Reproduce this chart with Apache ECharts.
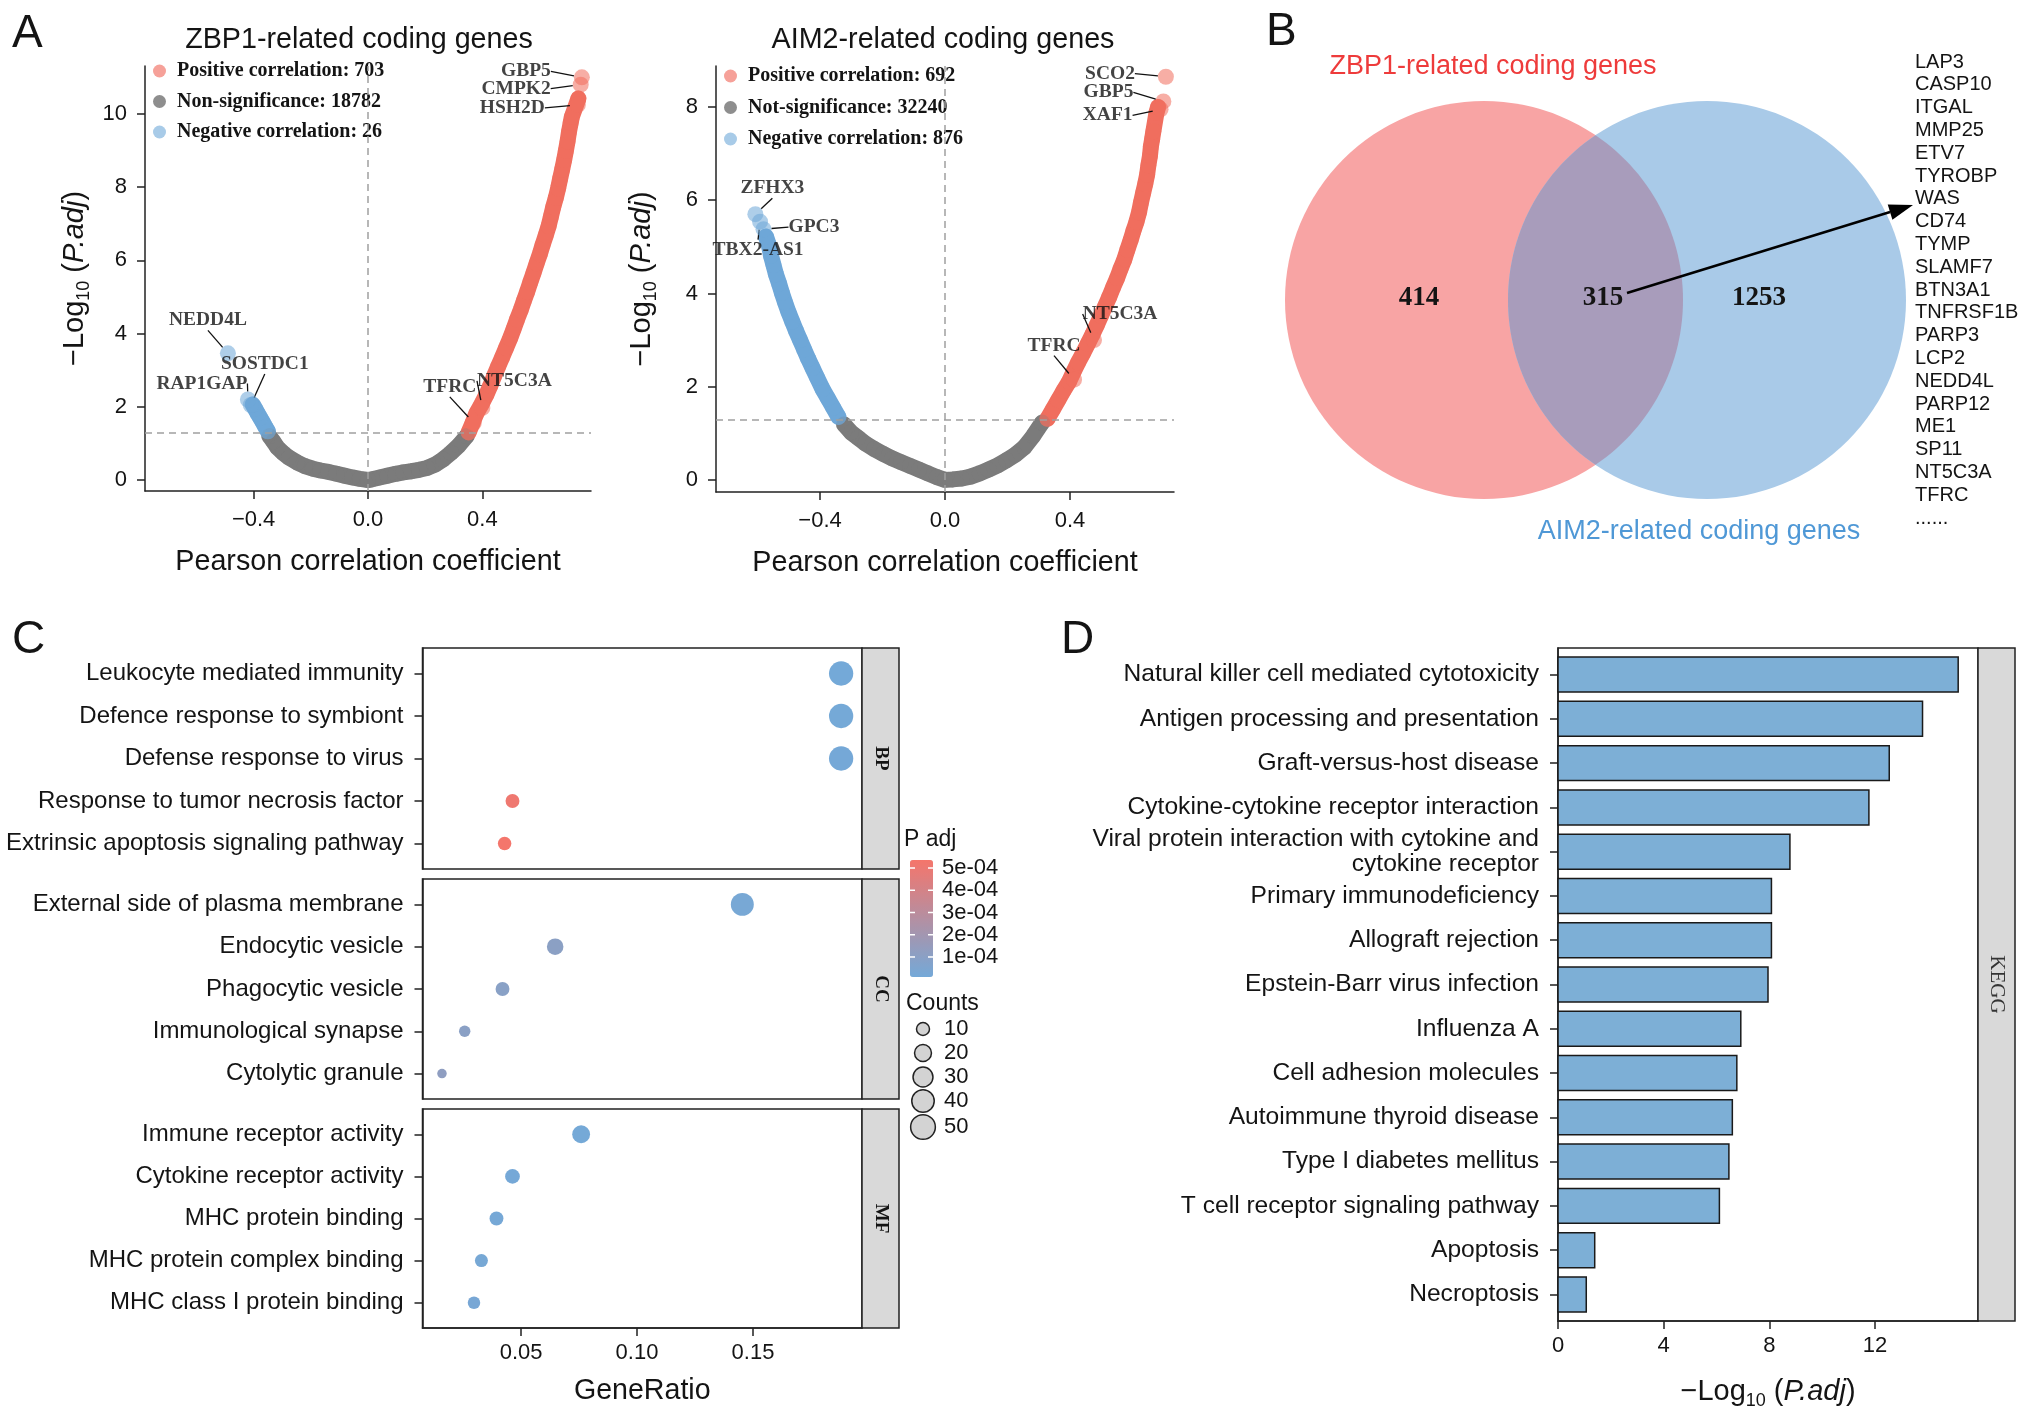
<!DOCTYPE html>
<html><head><meta charset="utf-8">
<script src="https://cdn.jsdelivr.net/npm/echarts@6/dist/echarts.min.js"></script>
<style>html,body{margin:0;padding:0;background:#fff}#c{width:2032px;height:1415px}</style>
</head><body><div id="c"></div>
<script>
// ---------------- DATA ----------------
// Panel A (left): ZBP1-related coding genes  [Pearson r, -log10(P.adj)]
const zbp1Legend = ['Positive correlation: 703', 'Non-significance: 18782', 'Negative correlation: 26'];
const zbp1Pos = [[0.352,1.30],[0.366,1.56],[0.379,1.82],[0.397,2.07],[0.414,2.33],[0.428,2.58],[0.441,2.84],[0.455,3.10],[0.469,3.35],[0.483,3.61],[0.497,3.87],[0.509,4.12],[0.521,4.38],[0.534,4.64],[0.545,4.89],[0.557,5.15],[0.568,5.41],[0.579,5.66],[0.590,5.92],[0.601,6.17],[0.611,6.43],[0.622,6.69],[0.632,6.94],[0.640,7.20],[0.648,7.46],[0.657,7.71],[0.665,7.97],[0.672,8.23],[0.679,8.48],[0.686,8.74],[0.692,8.99],[0.698,9.25],[0.703,9.51],[0.709,9.76],[0.713,9.92],[0.736,10.42]];
const zbp1Ns = [[0.345,1.20],[0.317,0.94],[0.290,0.74],[0.262,0.56],[0.234,0.42],[0.207,0.33],[0.179,0.28],[0.152,0.24],[0.124,0.21],[0.097,0.17],[0.069,0.12],[0.041,0.07],[0.014,0.02],[0.0,0.0],[-0.028,0.03],[-0.055,0.07],[-0.083,0.12],[-0.110,0.17],[-0.138,0.22],[-0.166,0.26],[-0.193,0.31],[-0.221,0.38],[-0.248,0.48],[-0.276,0.61],[-0.297,0.74],[-0.317,0.89],[-0.331,1.05],[-0.345,1.20]];
const zbp1Neg = [[-0.350,1.33],[-0.359,1.45],[-0.368,1.58],[-0.377,1.70],[-0.386,1.82],[-0.395,1.95],[-0.403,2.06]];
const zbp1LabelGenes = ['GBP5','CMPK2','HSH2D','NEDD4L','SOSTDC1','RAP1GAP','TFRC','NT5C3A'];
const zbp1LabelX = [0.748,0.744,0.734,-0.49,-0.41,-0.42,0.37,0.40];
const zbp1LabelY = [11.0,10.8,10.25,3.46,2.05,2.2,1.56,1.97];

// Panel A (right): AIM2-related coding genes
const aim2Legend = ['Positive correlation: 692', 'Not-significance: 32240', 'Negative correlation: 876'];
const aim2Pos = [[0.328,1.31],[0.345,1.51],[0.362,1.71],[0.379,1.91],[0.397,2.11],[0.411,2.31],[0.426,2.52],[0.442,2.72],[0.457,2.92],[0.472,3.12],[0.486,3.32],[0.499,3.52],[0.513,3.73],[0.526,3.93],[0.538,4.13],[0.551,4.33],[0.562,4.53],[0.574,4.73],[0.584,4.94],[0.594,5.14],[0.603,5.34],[0.613,5.54],[0.621,5.74],[0.627,5.94],[0.634,6.15],[0.641,6.35],[0.647,6.55],[0.651,6.75],[0.656,6.95],[0.659,7.15],[0.663,7.31],[0.667,7.48],[0.677,7.88],[0.682,8.0]];
const aim2Ns = [[0.311,1.23],[0.282,0.94],[0.254,0.70],[0.225,0.54],[0.197,0.42],[0.168,0.31],[0.139,0.22],[0.111,0.14],[0.082,0.07],[0.054,0.03],[0.025,0.01],[0.0,0.0],[-0.026,0.06],[-0.055,0.14],[-0.083,0.22],[-0.112,0.30],[-0.141,0.38],[-0.169,0.46],[-0.198,0.56],[-0.226,0.66],[-0.255,0.78],[-0.278,0.90],[-0.301,1.02],[-0.323,1.19]];
const aim2Neg = [[-0.341,1.35],[-0.358,1.55],[-0.375,1.75],[-0.392,1.95],[-0.409,2.19],[-0.424,2.40],[-0.438,2.60],[-0.451,2.80],[-0.464,3.00],[-0.477,3.20],[-0.489,3.40],[-0.501,3.60],[-0.512,3.81],[-0.522,4.01],[-0.531,4.21],[-0.541,4.41],[-0.549,4.61],[-0.557,4.81],[-0.563,5.02],[-0.573,5.22]];
const aim2LabelGenes = ['SCO2','GBP5','XAF1','ZFHX3','GPC3','TBX2-AS1','NT5C3A','TFRC'];
const aim2LabelX = [0.707,0.699,0.690,-0.607,-0.581,-0.592,0.477,0.413];
const aim2LabelY = [8.65,8.12,7.95,5.70,5.38,5.54,3.0,2.15];
const padjCut = 1.301;
const volcanoXTicks = [-0.4, 0, 0.4];
const zbp1YTicks = [0,2,4,6,8,10];
const aim2YTicks = [0,2,4,6,8];

// Panel B: Venn
const vennSetNames = ['ZBP1-related coding genes', 'AIM2-related coding genes'];
const vennCounts = [414, 315, 1253]; // ZBP1 only, shared, AIM2 only
const sharedGenes = ['LAP3','CASP10','ITGAL','MMP25','ETV7','TYROBP','WAS','CD74','TYMP','SLAMF7','BTN3A1','TNFRSF1B','PARP3','LCP2','NEDD4L','PARP12','ME1','SP11','NT5C3A','TFRC','......'];

// Panel C: GO enrichment
const bpTerms = ['Leukocyte mediated immunity','Defence response to symbiont','Defense response to virus','Response to tumor necrosis factor','Extrinsic apoptosis signaling pathway'];
const bpRatio = [0.188,0.188,0.188,0.0463,0.0429];
const bpPadj = [1.2e-5,1.4e-5,1.6e-5,5.1e-4,5.3e-4];
const bpCount = [48,48,48,12,11];
const ccTerms = ['External side of plasma membrane','Endocytic vesicle','Phagocytic vesicle','Immunological synapse','Cytolytic granule'];
const ccRatio = [0.1454,0.0647,0.0420,0.0257,0.0159];
const ccPadj = [2.5e-5,1.05e-4,9.5e-5,1.0e-4,1.2e-4];
const ccCount = [42,19,12,7,4];
const mfTerms = ['Immune receptor activity','Cytokine receptor activity','MHC protein binding','MHC protein complex binding','MHC class I protein binding'];
const mfRatio = [0.0759,0.0463,0.0394,0.0329,0.0297];
const mfPadj = [1.5e-5,1.6e-5,2.0e-5,2.4e-5,2.6e-5];
const mfCount = [23,14,12,10,9];
const goFacets = ['BP','CC','MF'];
const ratioTicks = [0.05,0.10,0.15];
const padjTicks = [5e-4,4e-4,3e-4,2e-4,1e-4];
const padjTickLabels = ['5e-04','4e-04','3e-04','2e-04','1e-04'];
const padjRange = [1e-5, 5.36e-4];
const countLegend = [10,20,30,40,50];

// Panel D: KEGG
const keggTerms = ['Natural killer cell mediated cytotoxicity','Antigen processing and presentation','Graft-versus-host disease','Cytokine-cytokine receptor interaction','Viral protein interaction with cytokine and\ncytokine receptor','Primary immunodeficiency','Allograft rejection','Epstein-Barr virus infection','Influenza A','Cell adhesion molecules','Autoimmune thyroid disease','Type I diabetes mellitus','T cell receptor signaling pathway','Apoptosis','Necroptosis'];
const keggLogP = [15.15,13.80,12.54,11.77,8.78,8.08,8.08,7.95,6.92,6.77,6.60,6.47,6.11,1.39,1.07];
const keggTicks = [0,4,8,12];

// ---------------- STYLE ----------------
const SANS = '"Liberation Sans", Arial, Helvetica, sans-serif';
const SERIF = '"Liberation Serif", "Times New Roman", serif';
const RED = '#F06E5F', GREY = '#7B7B7B', BLUE = '#6FA7D8';
const RED_A = 'rgba(240,110,95,0.7)', GREY_A = 'rgba(123,123,123,0.7)', BLUE_A = 'rgba(111,167,216,0.7)';
const RED_L = '#F6A199', GREY_L = '#8E8E8E', BLUE_L = '#A8CBE8';
const TXT = '#141414';
const labelOffsets = {
  zbp1: {GBP5:[-31,-6,'right'], CMPK2:[-30,4,'right'], HSH2D:[-33,3,'right'], NEDD4L:[-20,-33,'center'], SOSTDC1:[14,-41,'center'], RAP1GAP:[-46,-16,'center'], TFRC:[-24,-36,'center'], NT5C3A:[32,-27,'center']},
  aim2: {SCO2:[-31,-3,'right'], GBP5:[-30,-9,'right'], XAF1:[-28,6,'right'], ZFHX3:[17,-26,'center'], GPC3:[25,-2,'left'], 'TBX2-AS1':[-2,28,'center'], NT5C3A:[26,-26,'center'], TFRC:[-20,-34,'center']}
};
const sizeOf = c => 3.5 + 3 * Math.sqrt(c);

function classColor(x, y) { return y > padjCut ? (x > 0 ? RED_A : BLUE_A) : GREY_A; }
function fmtR(v) { return (v < 0 ? '\u2212' : '') + Math.abs(v).toFixed(1); }
const logName = '{a|\u2212Log}{b|10}{a| (}{c|P.adj}{a|)}';
const logRich = {
  a: {fontSize: 29, fontFamily: SANS, color: TXT, lineHeight: 36},
  b: {fontSize: 18, fontFamily: SANS, color: TXT, lineHeight: 18, verticalAlign: 'bottom'},
  c: {fontSize: 29, fontFamily: SANS, color: TXT, fontStyle: 'italic', lineHeight: 36}
};

function volcanoAxes(gi, xr, yr, yTicks, yNameGap) {
  const line = {show: true, onZero: false, lineStyle: {color: '#222', width: 1.5}};
  return {
    x: {gridIndex: gi, type: 'value', min: xr[0], max: xr[1], axisLine: line,
        axisTick: {show: true, length: 8, customValues: volcanoXTicks, lineStyle: {color: '#222', width: 1.5}},
        axisLabel: {customValues: volcanoXTicks, formatter: fmtR, fontSize: 22, fontFamily: SANS, color: TXT, margin: 18},
        splitLine: {show: false},
        name: 'Pearson correlation coefficient', nameLocation: 'middle', nameGap: 57,
        nameTextStyle: {fontSize: 28.7, fontFamily: SANS, color: TXT}},
    y: {gridIndex: gi, type: 'value', min: yr[0], max: yr[1], axisLine: line,
        axisTick: {show: true, length: 8, customValues: yTicks, lineStyle: {color: '#222', width: 1.5}},
        axisLabel: {customValues: yTicks, fontSize: 22, fontFamily: SANS, color: TXT, margin: 18},
        splitLine: {show: false},
        name: logName, nameLocation: 'middle', nameRotate: 90, nameGap: yNameGap,
        nameTextStyle: {rich: logRich}}
  };
}

function volcanoSeries(gi, names, pos, ns, neg, genes, gx, gy, key) {
  const base = {type: 'scatter', xAxisIndex: gi, yAxisIndex: gi, symbolSize: 16, silent: true, animation: false, z: 3};
  const band = (data, col) => ({type: 'line', xAxisIndex: gi, yAxisIndex: gi, data: data, symbol: 'none', silent: true, z: 2,
    lineStyle: {color: col, width: 16, cap: 'round', join: 'round'}});
  const labeled = genes.map((g, i) => [gx[i], gy[i], g]);
  return [
    band(ns, GREY), band(pos, RED), band(neg, BLUE),
    Object.assign({}, base, {name: names[1], data: ns, itemStyle: {color: GREY_A},
      markLine: {silent: true, symbol: 'none', label: {show: false}, animation: false,
        lineStyle: {type: [7, 5], color: '#A0A0A0', width: 1.5},
        data: [{xAxis: 0}, {yAxis: padjCut}]}}),
    Object.assign({}, base, {name: names[0], data: pos, itemStyle: {color: RED_A}}),
    Object.assign({}, base, {name: names[2], data: neg, itemStyle: {color: BLUE_A}}),
    Object.assign({}, base, {name: key + '-labels', data: labeled, z: 5,
      itemStyle: {color: p => classColor(p.value[0], p.value[1])},
      label: {show: true, position: 'inside', formatter: p => p.value[2], fontFamily: SERIF, fontWeight: 'bold', fontSize: 19.5, color: TXT},
      labelLine: {show: true, lineStyle: {color: '#111', width: 1.3}},
      labelLayout: p => { const o = labelOffsets[key][genes[p.dataIndex]];
        return {dx: o[0], dy: o[1], align: o[2], verticalAlign: 'middle'}; }})
  ];
}

const A0 = volcanoAxes(0, [-0.78, 0.78], [-0.3, 11.31], zbp1YTicks, 52);
const A1 = volcanoAxes(1, [-0.733, 0.733], [-0.26, 8.88], aim2YTicks, 56);

// GO panel axes (rows placed on a value scale with ggplot-like 0.6 padding)
const goGrids = [{top: 648, height: 221}, {top: 879, height: 220}, {top: 1109, height: 219}];
const goTermSets = [bpTerms, ccTerms, mfTerms];
const rowIdx5 = [0, 1, 2, 3, 4];
const goX = [], goY = [];
goGrids.forEach((g, k) => {
  const last = k === 2;
  goX.push({gridIndex: 2 + k, type: 'value', min: 0.0075, max: 0.197,
    axisLine: {show: last, onZero: false, lineStyle: {color: '#222', width: 1.5}},
    axisTick: {show: last, length: 8, customValues: ratioTicks, lineStyle: {color: '#222', width: 1.5}},
    axisLabel: {show: last, customValues: ratioTicks, formatter: v => v.toFixed(2), fontSize: 22, fontFamily: SANS, color: TXT, margin: 14},
    splitLine: {show: false},
    name: last ? 'GeneRatio' : '', nameLocation: 'middle', nameGap: 49,
    nameTextStyle: {fontSize: 28.6, fontFamily: SANS, color: TXT}});
  const terms = goTermSets[k];
  goY.push({gridIndex: 2 + k, type: 'value', inverse: true, min: -0.6, max: 4.6,
    axisLine: {show: true, onZero: false, lineStyle: {color: '#222', width: 1.5}},
    axisTick: {show: true, length: 8, customValues: rowIdx5, lineStyle: {color: '#222', width: 1.5}},
    axisLabel: {customValues: rowIdx5, formatter: v => terms[Math.round(v)], fontSize: 24, fontFamily: SANS, color: TXT, margin: 19},
    splitLine: {show: false}});
});
const goData = [[bpTerms, bpRatio, bpPadj, bpCount], [ccTerms, ccRatio, ccPadj, ccCount], [mfTerms, mfRatio, mfPadj, mfCount]];
const goSeries = goData.map((d, k) => ({
  type: 'scatter', name: goFacets[k], xAxisIndex: 2 + k, yAxisIndex: 2 + k, silent: true,
  data: d[0].map((t, i) => [d[1][i], i, d[2][i], d[3][i]]),
  symbolSize: v => sizeOf(v[3]), itemStyle: {opacity: 1}
}));
const keggIdx = keggTerms.map((t, i) => i);

// ---------------- GRAPHICS (annotations) ----------------
const G = [];
function txt(x, y, text, o) {
  G.push(Object.assign({type: 'text', x, y, silent: true,
    style: Object.assign({text, fill: TXT, fontFamily: SANS, fontSize: 22, align: 'left', verticalAlign: 'middle'}, o || {})}));
}
// panel letters
txt(12, 34, 'A', {fontSize: 46}); txt(1266, 32, 'B', {fontSize: 46});
txt(12, 640, 'C', {fontSize: 46}); txt(1061, 640, 'D', {fontSize: 46});
// volcano titles
txt(359, 40, 'ZBP1-related coding genes', {fontSize: 28.7, align: 'center'});
txt(943, 40, 'AIM2-related coding genes', {fontSize: 28.7, align: 'center'});

// Venn diagram
const vr = 199, vcy = 300, vc1 = 1484, vc2 = 1707;
G.push({type: 'circle', silent: true, shape: {cx: vc1, cy: vcy, r: vr}, style: {fill: '#F8A4A4'}});
G.push({type: 'circle', silent: true, shape: {cx: vc2, cy: vcy, r: vr}, style: {fill: '#A9CAE8'}});
(function () {
  const a = (vc2 - vc1) / 2, h = Math.sqrt(vr * vr - a * a), phi = Math.atan2(h, a), pts = [];
  for (let i = 0; i <= 60; i++) { const t = -phi + 2 * phi * i / 60; pts.push([vc1 + vr * Math.cos(t), vcy + vr * Math.sin(t)]); }
  for (let i = 0; i <= 60; i++) { const t = Math.PI - phi + 2 * phi * i / 60; pts.push([vc2 + vr * Math.cos(t), vcy + vr * Math.sin(t)]); }
  G.push({type: 'polygon', silent: true, shape: {points: pts}, style: {fill: '#A89CBB'}});
})();
const vennLabelX = [1419, 1603, 1759];
vennCounts.forEach((c, i) => txt(vennLabelX[i], 298, String(c), {fontFamily: SERIF, fontWeight: 'bold', fontSize: 27, align: 'center'}));
txt(1493, 67, vennSetNames[0], {fontSize: 27, align: 'center', fill: '#EE3B3B'});
txt(1699, 532, vennSetNames[1], {fontSize: 27, align: 'center', fill: '#4F98D6'});
sharedGenes.forEach((g, i) => txt(1915, 62 + i * 22.8, g, {fontSize: 20}));
// arrow from shared count to gene list
(function () {
  const x0 = 1627, y0 = 293, x1 = 1913, y1 = 205;
  const L = Math.hypot(x1 - x0, y1 - y0), ux = (x1 - x0) / L, uy = (y1 - y0) / L, hl = 24, hw = 8;
  const bx = x1 - ux * hl, by = y1 - uy * hl;
  G.push({type: 'line', silent: true, shape: {x1: x0, y1: y0, x2: bx, y2: by}, style: {stroke: '#000', lineWidth: 2.5}});
  G.push({type: 'polygon', silent: true, shape: {points: [[x1, y1], [bx - uy * hw, by + ux * hw], [bx + uy * hw, by - ux * hw]]}, style: {fill: '#000'}});
})();

// GO facet strips
goGrids.forEach((g, k) => {
  G.push({type: 'rect', silent: true, shape: {x: 862, y: g.top, width: 37, height: g.height}, style: {fill: '#D9D9D9', stroke: '#222', lineWidth: 1.5}});
  G.push({type: 'text', silent: true, x: 880.5, y: g.top + g.height / 2, rotation: -Math.PI / 2,
    style: {text: goFacets[k], fontFamily: SERIF, fontWeight: 'bold', fontSize: 19, fill: TXT, align: 'center', verticalAlign: 'middle'}});
});
// colour bar labels
const cbTop = 860, cbH = 117, cbLeft = 910, cbW = 23;
txt(904, 840, 'P adj', {fontSize: 23});
padjTicks.forEach((v, i) => {
  const y = cbTop + (padjRange[1] - v) / (padjRange[1] - padjRange[0]) * cbH;
  txt(942, y, padjTickLabels[i], {fontSize: 22});
  G.push({type: 'line', silent: true, z: 100, shape: {x1: cbLeft, y1: y, x2: cbLeft + 5, y2: y}, style: {stroke: '#fff', lineWidth: 1.5}});
  G.push({type: 'line', silent: true, z: 100, shape: {x1: cbLeft + cbW - 5, y1: y, x2: cbLeft + cbW, y2: y}, style: {stroke: '#fff', lineWidth: 1.5}});
});
// count legend
txt(906, 1004, 'Counts', {fontSize: 23});
const countLegendY = [1029, 1053, 1077, 1101, 1127];
countLegend.forEach((c, i) => {
  G.push({type: 'circle', silent: true, shape: {cx: 923, cy: countLegendY[i], r: sizeOf(c) / 2}, style: {fill: '#D3D3D3', stroke: '#222', lineWidth: 1.5}});
  txt(944, countLegendY[i], String(c), {fontSize: 22});
});
// KEGG strip
G.push({type: 'rect', silent: true, shape: {x: 1978, y: 648, width: 37, height: 673}, style: {fill: '#D9D9D9', stroke: '#222', lineWidth: 1.5}});
G.push({type: 'text', silent: true, x: 1996.5, y: 984.5, rotation: -Math.PI / 2,
  style: {text: 'KEGG', fontFamily: SERIF, fontSize: 21, fill: '#333', align: 'center', verticalAlign: 'middle'}});

// ---------------- OPTION ----------------
const legendBase = {orient: 'vertical', itemWidth: 25, itemHeight: 13, icon: 'circle',
  textStyle: {fontFamily: SERIF, fontWeight: 'bold', fontSize: 20, color: TXT}, padding: 0, selectedMode: false};
const lightCols = [RED_L, GREY_L, BLUE_L];
const order = [0, 1, 2];
const frame = {show: true, borderColor: '#222', borderWidth: 1.5, outerBoundsMode: 'none', containLabel: false};
const plain = {outerBoundsMode: 'none', containLabel: false};

const option = {
  animation: false,
  backgroundColor: '#fff',
  grid: [
    Object.assign({left: 145, top: 66, width: 446, height: 425}, plain),
    Object.assign({left: 716, top: 66, width: 458, height: 426}, plain),
    Object.assign({left: 422.5, top: 648, width: 439.5, height: 221}, frame),
    Object.assign({left: 422.5, top: 879, width: 439.5, height: 220}, frame),
    Object.assign({left: 422.5, top: 1109, width: 439.5, height: 219}, frame),
    Object.assign({left: 1558, top: 648, width: 420, height: 673}, frame)
  ],
  xAxis: [A0.x, A1.x].concat(goX).concat([{
    gridIndex: 5, type: 'value', min: 0, max: 15.9,
    axisLine: {show: true, onZero: false, lineStyle: {color: '#222', width: 1.5}},
    axisTick: {show: true, length: 8, customValues: keggTicks, lineStyle: {color: '#222', width: 1.5}},
    axisLabel: {customValues: keggTicks, fontSize: 22, fontFamily: SANS, color: TXT, margin: 14},
    splitLine: {show: false},
    name: logName, nameLocation: 'middle', nameGap: 53, nameTextStyle: {rich: logRich}}]),
  yAxis: [A0.y, A1.y].concat(goY).concat([{
    gridIndex: 5, type: 'value', inverse: true, min: -0.6, max: 14.6,
    axisLine: {show: true, onZero: false, lineStyle: {color: '#222', width: 1.5}},
    axisTick: {show: true, length: 8, customValues: keggIdx, lineStyle: {color: '#222', width: 1.5}},
    axisLabel: {customValues: keggIdx, formatter: v => keggTerms[Math.round(v)], fontSize: 24.6, fontFamily: SANS, color: TXT, margin: 19, lineHeight: 25},
    splitLine: {show: false}}]),
  legend: [
    Object.assign({}, legendBase, {left: 153, top: 61, itemGap: 10.5,
      data: order.map(i => ({name: zbp1Legend[i], itemStyle: {color: lightCols[i], opacity: 1}}))}),
    Object.assign({}, legendBase, {left: 724, top: 66, itemGap: 11.5,
      data: order.map(i => ({name: aim2Legend[i], itemStyle: {color: lightCols[i], opacity: 1}}))})
  ],
  visualMap: [{
    type: 'continuous', seriesIndex: [14, 15, 16], dimension: 2, min: padjRange[0], max: padjRange[1],
    inRange: {color: ['#74A9D8', '#F5756B']}, orient: 'vertical', left: cbLeft, top: cbTop,
    itemWidth: cbW, itemHeight: cbH, padding: 0, calculable: false, hoverLink: false, text: null, showLabel: false
  }],
  series: []
    .concat(volcanoSeries(0, zbp1Legend, zbp1Pos, zbp1Ns, zbp1Neg, zbp1LabelGenes, zbp1LabelX, zbp1LabelY, 'zbp1'))
    .concat(volcanoSeries(1, aim2Legend, aim2Pos, aim2Ns, aim2Neg, aim2LabelGenes, aim2LabelX, aim2LabelY, 'aim2'))
    .concat(goSeries)
    .concat([{type: 'custom', xAxisIndex: 5, yAxisIndex: 5, silent: true,
      data: keggLogP.map((v, i) => [v, i]), encode: {x: 0, y: 1},
      renderItem: (params, api) => {
        const p0 = api.coord([0, api.value(1)]), p1 = api.coord([api.value(0), api.value(1)]);
        const h = api.size([0, 0.79])[1];
        return {type: 'rect', shape: {x: p0[0], y: p0[1] - h / 2, width: p1[0] - p0[0], height: h},
          style: {fill: '#7DAFD6', stroke: '#1a1a1a', lineWidth: 1.5}};
      }}]),
  graphic: {elements: G}
};

const chart = echarts.init(document.getElementById('c'));
chart.setOption(option);
</script></body></html>
